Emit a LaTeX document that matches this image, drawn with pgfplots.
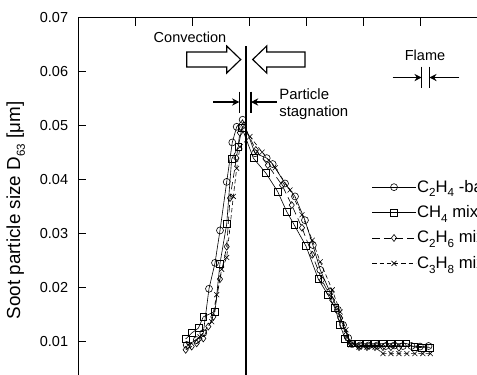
\documentclass[border=0pt]{standalone}
\usepackage{fontspec}
\setmainfont{Liberation Sans}
\usepackage{pgfplots}
\pgfplotsset{compat=1.18}
\usetikzlibrary{arrows.meta}
\newcommand\sub[1]{\raisebox{-0.28em}{\fontsize{0.7em}{0.7em}\selectfont #1}}
\newcommand\subl[1]{\raisebox{-3.2pt}{\fontsize{8}{8}\selectfont #1}}
\pgfplotstableread{
x y
1.907 0.0094
2.082 0.0103
2.198 0.0116
2.298 0.0198
2.404 0.0246
2.491 0.0306
2.609 0.0396
2.707 0.0469
2.784 0.0498
2.889 0.0511
3.105 0.0449
3.311 0.0440
3.416 0.0429
3.632 0.0393
3.807 0.0369
3.982 0.0325
4.12 0.0279
4.25 0.0233
4.42 0.0192
4.56 0.0159
4.65 0.0131
4.74 0.0107
4.81 0.0096
4.95 0.0093
5.1 0.0093
5.25 0.0093
5.4 0.0092
5.55 0.0093
5.7 0.0092
5.85 0.0092
6.0 0.0091
6.15 0.0092
}\ethylene
\pgfplotstableread{
x y
1.889 0.0105
1.995 0.0116
2.111 0.0125
2.198 0.0146
2.404 0.0156
2.491 0.0245
2.609 0.0318
2.696 0.0438
2.812 0.0461
2.877 0.0496
3.076 0.0440
3.298 0.0412
3.503 0.0378
3.661 0.0341
3.795 0.0316
4.0 0.0277
4.216 0.0216
4.39 0.0186
4.51 0.0162
4.60 0.0131
4.68 0.0106
4.78 0.0097
4.92 0.0097
5.06 0.0097
5.2 0.0097
5.34 0.0097
5.48 0.0097
5.62 0.0097
5.76 0.0097
5.9 0.0090
6.04 0.0089
6.18 0.0089
}\methane
\pgfplotstableread{
x y
1.889 0.0085
1.995 0.0091
2.082 0.0097
2.198 0.0106
2.286 0.0128
2.374 0.0146
2.491 0.0216
2.609 0.0276
2.667 0.0366
2.78 0.0440
2.84 0.0487
2.91 0.0501
3.12 0.0455
3.33 0.0427
3.58 0.0390
3.75 0.0353
3.93 0.0311
4.11 0.0261
4.28 0.0214
4.46 0.0177
4.60 0.0144
4.70 0.0112
4.79 0.0096
4.93 0.0090
5.07 0.0090
5.21 0.0090
5.35 0.0090
5.49 0.0090
5.63 0.0089
}\ethane
\pgfplotstableread{
x y
1.935 0.0094
2.14 0.0109
2.346 0.0137
2.433 0.0187
2.521 0.0234
2.609 0.0256
2.725 0.0369
2.784 0.0421
2.842 0.0461
3.018 0.0480
3.23 0.0451
3.46 0.0422
3.72 0.0381
3.93 0.0335
4.11 0.0288
4.25 0.0248
4.46 0.0196
4.60 0.0155
4.70 0.0122
4.79 0.0094
4.93 0.0090
5.07 0.0090
5.21 0.0090
5.35 0.0078
5.49 0.0078
5.63 0.0078
5.77 0.0078
5.91 0.0078
6.05 0.0078
6.18 0.0078
}\propane
\begin{document}
\begin{tikzpicture}
\useasboundingbox (0pt,0pt) rectangle (329.13pt,-258.06pt);
\clip (0pt,0pt) rectangle (329.13pt,-258.06pt);
\begin{axis}[
  at={(53.82pt,-12.21pt)}, anchor=north west,
  scale only axis, width=279.24pt, height=260.82pt,
  xmin=0, xmax=7.1, ymin=0, ymax=0.07,
  xtick={1,2,3,4,5,6}, xticklabels={},
  scaled y ticks=false, scaled x ticks=false,
  ytick={0.01,0.02,0.03,0.04,0.05,0.06,0.07},
  yticklabels={0.01,0.02,0.03,0.04,0.05,0.06,0.07},
  yticklabel style={font=\fontsize{10}{12}\selectfont, xshift=-3.3pt},
  ytick pos=left, tick align=inside, major tick length=5.5pt,
  axis line style={line width=0.62pt}, tick style={line width=0.55pt, black},
  ylabel={\fontsize{13}{15}\selectfont Soot particle size D\subl{63} [μm]},
  every axis y label/.style={at={(axis description cs:-0.154,0.49)}, rotate=90, anchor=center},
  legend style={draw=none, fill=none, font=\fontsize{11.5}{13}\selectfont, at={(axis description cs:0.7257,0.574)}, anchor=north west, row sep=6.3pt, inner sep=0pt, nodes={inner sep=0.7pt}},
  legend cell align=left,
  legend image code/.code={\draw[mark repeat=2,mark phase=2,#1] plot coordinates {(0pt,0pt) (15pt,0pt) (30pt,0pt)};},
  every axis plot/.append style={black, line width=0.42pt, mark size=2.4pt, mark options={solid, line width=0.42pt, fill=none}},
]
\addplot[mark=o] table {\ethylene};
\addlegendentry{C\sub{2}H\sub{4} -based}
\addplot[mark=square] table {\methane};
\addlegendentry{CH\sub{4} mixed}
\addplot[mark=diamond, dash pattern=on 5pt off 3pt] table {\ethane};
\addlegendentry{C\sub{2}H\sub{6} mixed}
\addplot[mark=x, dash pattern=on 3pt off 2pt] table {\propane};
\addlegendentry{C\sub{3}H\sub{8} mixed}
\end{axis}
\begin{scope}[x=0.69pt, y=-0.69pt]
\draw[line width=1.1pt] (245.7,46) -- (245.7,380);
\draw[line width=0.8pt, fill=white] (186.7,52) -- (226.7,52) -- (226.7,46) -- (240.7,59.5) -- (226.7,73) -- (226.7,67) -- (186.7,67) -- cycle;
\draw[line width=0.8pt, fill=white] (305,52) -- (266.7,52) -- (266.7,46) -- (252.7,59.5) -- (266.7,73) -- (266.7,67) -- (305,67) -- cycle;
\node[font=\fontsize{10}{12}\selectfont] at (190,37.5) {Convection};
\draw[line width=0.8pt] (239.3,91.7) -- (239.3,113);
\draw[line width=0.8pt] (251,91.7) -- (251,113);
\draw[line width=0.75pt, -{Stealth[length=5pt,width=5pt]}] (213,102) -- (239.3,102);
\draw[line width=0.75pt, -{Stealth[length=5pt,width=5pt]}] (276.7,102) -- (251,102);
\node[anchor=west, inner sep=0pt, font=\fontsize{10.3}{12}\selectfont] at (279,94) {Particle};
\node[anchor=west, inner sep=0pt, font=\fontsize{10.3}{12}\selectfont] at (279,113) {stagnation};
\node[font=\fontsize{10}{12}\selectfont] at (425,55) {Flame};
\draw[line width=0.8pt] (421.7,66.7) -- (421.7,88.3);
\draw[line width=0.8pt] (429.3,66.7) -- (429.3,88.3);
\draw[line width=0.75pt, -{Stealth[length=5pt,width=5pt]}] (392.7,77.5) -- (421.7,77.5);
\draw[line width=0.75pt, -{Stealth[length=5pt,width=5pt]}] (459.3,77.5) -- (429.3,77.5);
\end{scope}
\end{tikzpicture}
\end{document}
